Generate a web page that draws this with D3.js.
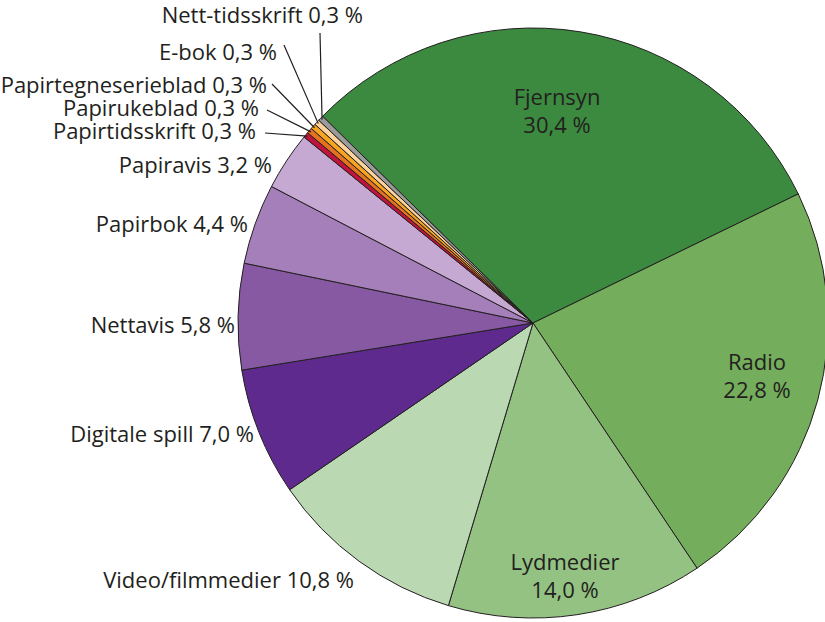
<!DOCTYPE html>
<html>
<head>
<meta charset="utf-8">
<script src="https://cdn.jsdelivr.net/npm/d3@7"></script>
<style>
  body { margin: 0; background: #fff; }
  text { font-family: "Open Sans", "Noto Sans", sans-serif; fill: #231f20; }
</style>
</head>
<body>
<svg width="825" height="622"></svg>
<script>
// data, clockwise from Fjernsyn
var categories = ["Fjernsyn", "Radio", "Lydmedier", "Video/filmmedier", "Digitale spill",
  "Nettavis", "Papirbok", "Papiravis", "Papirtidsskrift", "Papirukeblad",
  "Papirtegneserieblad", "E-bok", "Nett-tidsskrift"];
var values = [30.4, 22.8, 14.0, 10.8, 7.0, 5.8, 4.4, 3.2, 0.3, 0.3, 0.3, 0.3, 0.3];
var colors = ["#3b8a3f", "#74ad5c", "#93c283", "#bad9b2", "#5f2a8d",
  "#8759a3", "#a57fba", "#c6a9d2", "#c1133b", "#e5731e",
  "#f7a520", "#fdd39c", "#9b9b9b"];

// label placement: inside labels (two lines) or outside (anchor end, with optional leader)
var labelPos = [
  {inside: true, x: 557, y: 97},
  {inside: true, x: 757, y: 362},
  {inside: true, x: 565, y: 562},
  {x: 354, y: 580},
  {x: 254, y: 434},
  {x: 235, y: 325},
  {x: 248, y: 224},
  {x: 272, y: 165},
  {x: 256, y: 131, lx: 265, ly: 133},
  {x: 259, y: 108, lx: 267, ly: 110},
  {x: 267, y: 85, lx: 272, ly: 84},
  {x: 277, y: 52, lx: 284, ly: 45},
  {x: 363, y: 15, lx: 320, ly: 33}
];

var fmt = function(v) { return d3.format(".1f")(v).replace(".", ",") + " %"; };

var cx = 533, cy = 323, r = 295;

var svg = d3.select("svg"),
    g = svg.append("g").attr("transform", "translate(" + cx + "," + cy + ")");

var pie = d3.pie()
  .sort(null)
  .value(function(d) { return d; })
  .startAngle(-45.5 * Math.PI / 180)
  .endAngle((360 - 45.5) * Math.PI / 180);

var arcs = pie(values);
var arc = d3.arc().innerRadius(0).outerRadius(r);

g.selectAll("path.slice")
  .data(arcs)
  .enter().append("path")
  .attr("class", "slice")
  .attr("d", arc)
  .attr("fill", function(d, i) { return colors[i]; })
  .attr("stroke", "#231f20")
  .attr("stroke-width", 1);

// leader lines for the tiny slices
arcs.forEach(function(d, i) {
  var p = labelPos[i];
  if (p.lx === undefined) return;
  var a = (d.startAngle + d.endAngle) / 2;
  var ex = cx + Math.sin(a) * (r - 2), ey = cy - Math.cos(a) * (r - 2);
  svg.append("line")
    .attr("x1", p.lx).attr("y1", p.ly)
    .attr("x2", ex).attr("y2", ey)
    .attr("stroke", "#231f20")
    .attr("stroke-width", 1.2);
});

var fs = 22;
arcs.forEach(function(d, i) {
  var p = labelPos[i];
  if (p.inside) {
    var t = svg.append("text")
      .attr("text-anchor", "middle")
      .style("font-size", fs + "px");
    t.append("tspan").attr("x", p.x).attr("y", p.y).attr("dy", "0.35em").text(categories[i]);
    t.append("tspan").attr("x", p.x).attr("y", p.y + 28).attr("dy", "0.35em").text(fmt(values[i]));
  } else {
    svg.append("text")
      .attr("x", p.x).attr("y", p.y).attr("dy", "0.35em")
      .attr("text-anchor", "end")
      .style("font-size", fs + "px")
      .text(categories[i] + " " + fmt(values[i]));
  }
});
</script>
</body>
</html>
